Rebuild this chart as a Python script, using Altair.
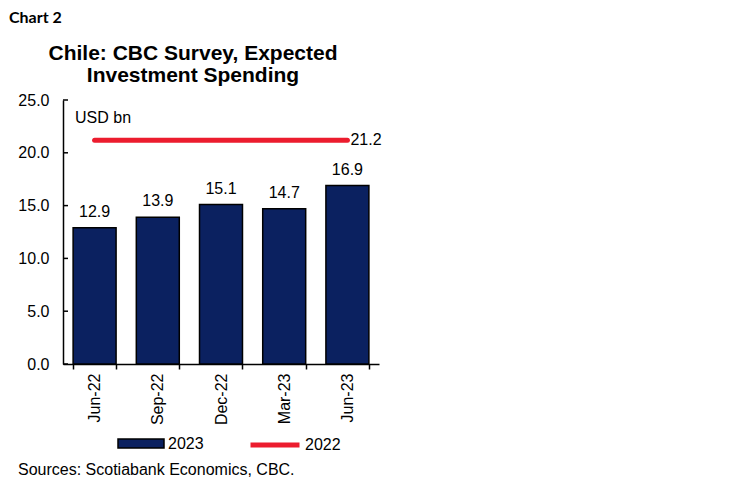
import altair as alt
import pandas as pd

cats = ["Jun-22", "Sep-22", "Dec-22", "Mar-23", "Jun-23"]
vals_2023 = [12.9, 13.9, 15.1, 14.7, 16.9]
vals_2022 = [21.2, 21.2, 21.2, 21.2, 21.2]
y_ticks = [0, 5, 10, 15, 20, 25]
title_lines = ["Chile: CBC Survey, Expected", "Investment Spending"]

NAVY = "#0B2160"
RED = "#EC1C2E"
FONT = "Liberation Sans"
FS = 16

bars_df = pd.DataFrame({"cat": cats, "value": vals_2023, "series": ["2023"] * 5})
line_df = pd.DataFrame({"cat": cats, "value": vals_2022, "series": ["2022"] * 5})
lab_df = line_df.tail(1)
tick_df = pd.DataFrame({"t": y_ticks})

x = alt.X(
    "cat:N",
    sort=cats,
    scale=alt.Scale(paddingInner=0.32, paddingOuter=0.16),
    axis=alt.Axis(
        title=None, labelAngle=270, labelAlign="right", labelBaseline="middle",
        tickBand="extent", tickSize=5, tickColor="black", tickWidth=1.5,
        labelPadding=4, labelFont=FONT, labelFontSize=FS, labelColor="black",
        domainColor="black", domainWidth=1.5,
    ),
)
y = alt.Y(
    "value:Q",
    scale=alt.Scale(domain=[0, 25], nice=False),
    axis=alt.Axis(
        title=None, values=y_ticks, format=".1f", ticks=False, grid=False,
        labelPadding=14, labelFont=FONT, labelFontSize=FS, labelColor="black",
        domainColor="black", domainWidth=1.5,
    ),
)

bars = alt.Chart(bars_df).mark_bar(stroke="black", strokeWidth=1.5).encode(
    x=x, y=y,
    fill=alt.Fill("series:N", scale=alt.Scale(domain=["2023"], range=[NAVY]),
                  legend=alt.Legend(title=None, orient="none", legendX=54, legendY=319.5,
                                    symbolType="M-1,-0.196H1V0.196H-1Z", symbolSize=2116,
                                    symbolStrokeColor="black", symbolStrokeWidth=1.5,
                                    labelFont=FONT, labelFontSize=FS, labelColor="black",
                                    labelOffset=3, padding=0)),
)
bar_labels = alt.Chart(bars_df).mark_text(font=FONT, fontSize=FS, dy=-11, baseline="alphabetic", color="black").encode(
    x=alt.X("cat:N", sort=cats), y="value:Q", text=alt.Text("value:Q", format=".1f")
)
line = alt.Chart(line_df).mark_line(strokeWidth=5, strokeCap="round").encode(
    x=alt.X("cat:N", sort=cats), y="value:Q",
    stroke=alt.Stroke("series:N", scale=alt.Scale(domain=["2022"], range=[RED]),
                      legend=alt.Legend(title=None, orient="none", legendX=185, legendY=318,
                                        symbolType="stroke", symbolSize=2401, symbolStrokeWidth=5,
                                        labelFont=FONT, labelFontSize=FS, labelColor="black",
                                        labelOffset=3, padding=0)),
)
line_label = alt.Chart(lab_df).mark_text(font=FONT, fontSize=FS, align="left", baseline="middle", dx=3, color="black").encode(
    x=alt.X("cat:N", sort=cats), y="value:Q", text=alt.Text("value:Q", format=".1f")
)
yticks = alt.Chart(tick_df).mark_rule(color="black", strokeWidth=1.5).encode(
    y=alt.Y("t:Q"), x=alt.value(0), x2=alt.value(5)
)
unit = alt.Chart(pd.DataFrame({"t": ["USD bn"]})).mark_text(
    font=FONT, fontSize=FS, align="left", baseline="alphabetic", color="black"
).encode(x=alt.value(12), y=alt.value(23), text="t:N")
title = alt.Chart(pd.DataFrame({"t": [title_lines]})).mark_text(
    font=FONT, fontSize=21, fontWeight="bold", align="center", baseline="alphabetic",
    lineHeight=22, color="black"
).encode(x=alt.value(130), y=alt.value(-40), text="t")
chart2 = alt.Chart(pd.DataFrame({"t": ["Chart 2"]})).mark_text(
    font="Lato", fontSize=16, fontWeight="bold", align="left", baseline="alphabetic", color="black"
).encode(x=alt.value(-54), y=alt.value(-77), text="t:N")
source = alt.Chart(pd.DataFrame({"t": ["Sources: Scotiabank Economics, CBC."]})).mark_text(
    font=FONT, fontSize=FS, align="left", baseline="alphabetic", color="black"
).encode(x=alt.value(-45), y=alt.value(375), text="t:N")

chart = alt.layer(bars, bar_labels, line, line_label, yticks, unit, title, chart2, source).resolve_scale(
    fill="independent", stroke="independent"
).properties(
    width=316, height=264,
    padding={"left": 55, "top": 92, "right": 10, "bottom": 118},
    autosize=alt.AutoSizeParams(type="none"),
    background="white",
).configure_view(strokeWidth=0)

chart.save("out.html", embed_options={"renderer": "svg", "actions": False})
